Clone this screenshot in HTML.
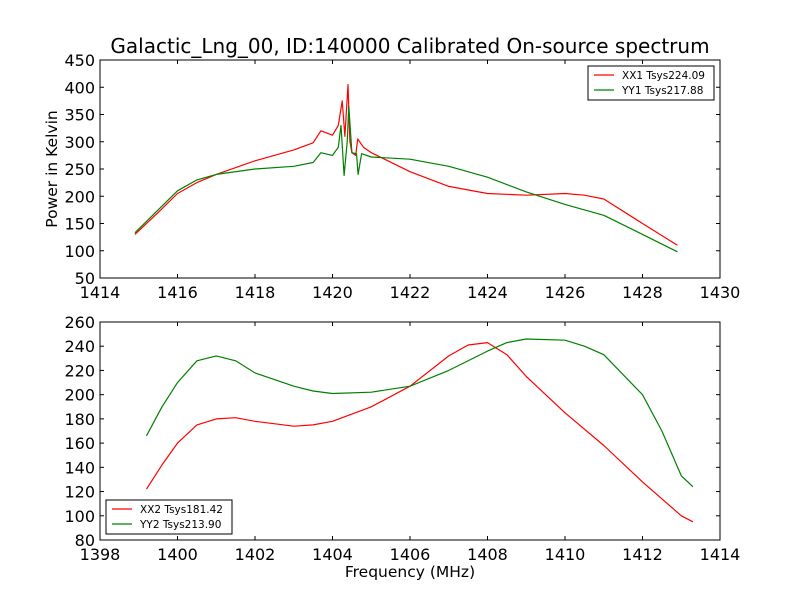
<!DOCTYPE html>
<html><head><meta charset="utf-8"><style>body{margin:0;background:#fff}svg{display:block;font-family:"DejaVu Sans","Liberation Sans",sans-serif}</style></head>
<body>
<svg id="c" width="800" height="600"></svg>
<script>
const topXTicks=[1414,1416,1418,1420,1422,1424,1426,1428,1430];
const topYTicks=[50,100,150,200,250,300,350,400,450];
const botXTicks=[1398,1400,1402,1404,1406,1408,1410,1412,1414];
const botYTicks=[80,100,120,140,160,180,200,220,240,260];
const xx1F=[1414.9,1415.5,1416,1416.5,1417,1418,1419,1419.5,1419.7,1420,1420.15,1420.25,1420.32,1420.4,1420.45,1420.5,1420.6,1420.65,1420.8,1421,1422,1423,1424,1425,1426,1426.5,1427,1428,1428.9];
const xx1V=[130,170,205,225,240,265,285,298,320,312,330,375,310,405,300,280,275,305,290,280,245,218,205,202,205,202,195,150,110];
const yy1F=[1414.9,1415.5,1416,1416.5,1417,1418,1419,1419.5,1419.7,1420,1420.15,1420.22,1420.3,1420.38,1420.42,1420.5,1420.62,1420.66,1420.75,1421,1422,1423,1424,1425,1426,1427,1428,1428.9];
const yy1V=[133,175,210,230,240,250,255,262,280,275,290,330,238,300,365,280,278,240,278,272,268,255,235,208,185,165,130,98];
const xx2F=[1399.2,1399.6,1400,1400.5,1401,1401.5,1402,1403,1403.5,1404,1405,1406,1407,1407.5,1408,1408.5,1409,1410,1411,1412,1413,1413.3];
const xx2V=[122,142,160,175,180,181,178,174,175,178,190,207,232,241,243,233,215,185,158,128,100,95];
const yy2F=[1399.2,1399.6,1400,1400.5,1401,1401.5,1402,1403,1403.5,1404,1405,1406,1407,1408,1408.5,1409,1410,1410.5,1411,1412,1412.5,1413,1413.3];
const yy2V=[166,190,210,228,232,228,218,207,203,201,202,207,220,236,243,246,245,240,233,200,170,133,124];
const NS="http://www.w3.org/2000/svg";const svg=document.getElementById('c');
function el(t,a,p){const e=document.createElementNS(NS,t);for(const k in a)e.setAttribute(k,a[k]);(p||svg).appendChild(e);return e;}
function panel(name,box,xt,yt,series,legend,xlabel,ylabel){
 const [L,T,R,B]=box;const x0=xt[0],x1=xt[xt.length-1],y0=yt[0],y1=yt[yt.length-1];
 const sx=v=>L+(v-x0)/(x1-x0)*(R-L), sy=v=>B-(v-y0)/(y1-y0)*(B-T);
 const g=el('g',{});
 for(const s of series){let d='';s.f.forEach((f,i)=>{d+=(i?'L':'M')+sx(f).toFixed(1)+','+sy(s.v[i]).toFixed(1);});
  const p=el('path',{d:d,fill:'none',stroke:s.c,'stroke-width':1.2,'stroke-linejoin':'round'},g);}
 const fr=el('rect',{x:L,y:T,width:R-L,height:B-T,fill:'none',stroke:'#000'},g);
 xt.forEach(v=>{const x=sx(v);el('line',{x1:x,x2:x,y1:B,y2:B-4,stroke:'#000'},g);el('line',{x1:x,x2:x,y1:T,y2:T+4,stroke:'#000'},g);
  const t=el('text',{x:x,y:B+20,'text-anchor':'middle','font-size':16},g);t.textContent=v;});
 yt.forEach(v=>{const y=sy(v);el('line',{x1:L,x2:L+4,y1:y,y2:y,stroke:'#000'},g);el('line',{x1:R,x2:R-4,y1:y,y2:y,stroke:'#000'},g);
  const t=el('text',{x:L-5,y:y+6,'text-anchor':'end','font-size':16},g);t.textContent=v;});
 const lg=el('g',{},g);
 el('rect',{x:legend[0],y:legend[1],width:126,height:34,fill:'#fff',stroke:'#000'},lg);
 series.forEach((s,i)=>{const y=legend[1]+9+i*15;el('line',{x1:legend[0]+6,x2:legend[0]+26,y1:y,y2:y,stroke:s.c,'stroke-width':1.2},lg);
  const t=el('text',{x:legend[0]+34,y:y+4,'font-size':10.5},lg);t.textContent=s.label;});
 if(xlabel){const t=el('text',{x:(L+R)/2,y:B+37,'text-anchor':'middle','font-size':15.5},g);t.textContent=xlabel;}
 if(ylabel){const t=el('text',{x:0,y:0,'text-anchor':'middle','font-size':15.5,transform:`translate(57,${(T+B)/2}) rotate(-90)`},g);t.textContent=ylabel;}
}
const tt=el('text',{x:410,y:53,'text-anchor':'middle','font-size':20});tt.textContent='Galactic_Lng_00, ID:140000 Calibrated On-source spectrum';

panel('top-panel',[100,60,720,278],topXTicks,topYTicks,[{f:xx1F,v:xx1V,c:'#ff0000',n:'xx1-line',label:'XX1 Tsys224.09'},{f:yy1F,v:yy1V,c:'#008000',n:'yy1-line',label:'YY1 Tsys217.88'}],[588,66],null,'Power in Kelvin');
panel('bottom-panel',[100,322,720,540],botXTicks,botYTicks,[{f:xx2F,v:xx2V,c:'#ff0000',n:'xx2-line',label:'XX2 Tsys181.42'},{f:yy2F,v:yy2V,c:'#008000',n:'yy2-line',label:'YY2 Tsys213.90'}],[106,500],'Frequency (MHz)',null);
</script>
</body></html>
